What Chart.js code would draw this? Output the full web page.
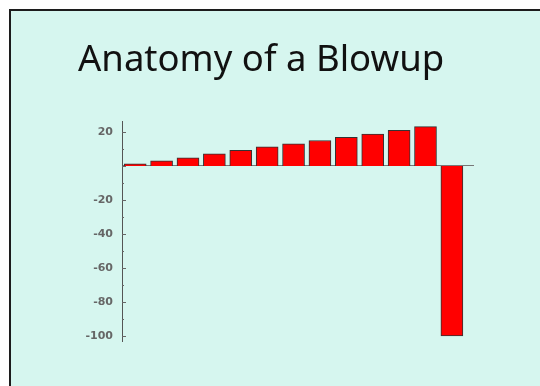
<!DOCTYPE html>
<html>
<head>
<meta charset="utf-8">
<script src="https://cdn.jsdelivr.net/npm/chart.js@4"></script>
<style>
  html, body { margin: 0; padding: 0; background: #fff; overflow: hidden; }
  #frame {
    position: absolute; left: 9px; top: 9px; width: 560px; height: 400px;
    border: 2px solid #1c1c1c; background: #d6f6ef;
  }
  #chart { position: absolute; left: 0; top: 0; }
</style>
</head>
<body>
<div id="frame"></div>
<canvas id="chart" width="540" height="386"></canvas>
<script>
// Data
const categories = [1, 2, 3, 4, 5, 6, 7, 8, 9, 10, 11, 12, 13];
const values = [1.2, 3, 4.8, 7.2, 9.2, 11.2, 13, 15, 16.8, 18.8, 21, 23.2, -100];
const tickLabels = [20, -20, -40, -60, -80, -100];

// small tick marks drawn on the inner side of the y axis
const innerTicks = {
    id: 'innerTicks',
    afterDraw(chart) {
        const y = chart.scales.y;
        const ctx = chart.ctx;
        const x0 = y.right;
        ctx.save();
        ctx.strokeStyle = '#666';
        ctx.lineWidth = 1;
        y.ticks.forEach(t => {
            const py = Math.round(y.getPixelForValue(t.value)) + 0.5;
            const len = t.value % 20 === 0 ? 4 : 2;
            ctx.beginPath();
            ctx.moveTo(x0, py);
            ctx.lineTo(x0 + len, py);
            ctx.stroke();
        });
        ctx.restore();
    }
};

const ctx = document.getElementById('chart').getContext('2d');
new Chart(ctx, {
    type: 'bar',
    data: {
        labels: categories,
        datasets: [{
            data: values,
            backgroundColor: '#ff0000',
            borderColor: '#333',
            borderWidth: 1,
            barThickness: 22
        }]
    },
    options: {
        responsive: false,
        animation: false,
        layout: { padding: { left: 78, right: 67, top: 39, bottom: 45 } },
        plugins: {
            legend: { display: false },
            tooltip: { enabled: false },
            title: {
                display: true,
                text: 'Anatomy of a Blowup',
                align: 'start',
                color: '#111',
                font: { family: 'Noto Sans', size: 36.5, weight: 'normal', lineHeight: 1.2 },
                padding: { top: 0, bottom: 39 }
            }
        },
        scales: {
            x: {
                type: 'linear',
                offset: false,
                min: 0.5,
                max: 13.8,
                position: { y: 0 },
                ticks: { display: false },
                grid: { display: false, offset: false },
                border: { display: true, color: '#777', width: 1 }
            },
            y: {
                min: -103,
                max: 26,
                ticks: {
                    stepSize: 5,
                    includeBounds: false,
                    padding: 9,
                    color: '#666',
                    font: { family: 'DejaVu Sans', size: 11, weight: 'bold' },
                    callback: v => tickLabels.includes(v) ? String(v) : ''
                },
                grid: { display: false, drawTicks: false },
                border: { display: true, color: '#555', width: 1 },
                afterFit(scale) { scale.width = 44; }
            }
        }
    },
    plugins: [innerTicks]
});
</script>
</body>
</html>
